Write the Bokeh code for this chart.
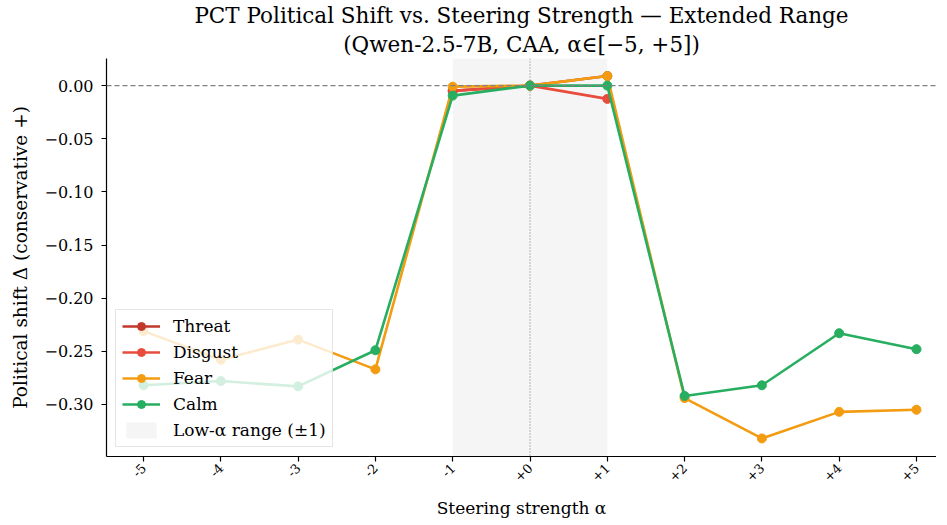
from bokeh.plotting import figure
from bokeh.models import Span, Legend, LegendItem, FixedTicker, CustomJSTickFormatter, Range1d, Title
from bokeh.embed import file_html
from bokeh.resources import INLINE

# ---- data ----
alpha_full = [-5, -4, -3, -2, -1, 0, 1, 2, 3, 4, 5]
alpha_low = [-1, 0, 1]
threat = [-0.005, 0.0, 0.009]
disgust = [-0.005, 0.0, -0.0125]
fear = [-0.231, -0.258, -0.239, -0.267, -0.001, 0.0, 0.009, -0.294, -0.332, -0.307, -0.305]
calm = [-0.282, -0.278, -0.283, -0.249, -0.0094, 0.0, 0.0, -0.292, -0.282, -0.233, -0.248]
low_range = [-1, 1]
x_ticks = [-5, -4, -3, -2, -1, 0, 1, 2, 3, 4, 5]
y_ticks = [0.0, -0.05, -0.10, -0.15, -0.20, -0.25, -0.30]
title_lines = ["PCT Political Shift vs. Steering Strength \u2014 Extended Range",
               "(Qwen-2.5-7B, CAA, \u03b1\u2208[\u22125, +5])"]

series = [
    ("Threat", alpha_low, threat, "#c0392b"),
    ("Disgust", alpha_low, disgust, "#e74c3c"),
    ("Fear", alpha_full, fear, "#f39c12"),
    ("Calm", alpha_full, calm, "#27ae60"),
]

FONT = "DejaVu Serif"

p = figure(width=936, height=522, output_backend="svg", toolbar_location=None,
           x_range=Range1d(-5.479, 5.259), y_range=Range1d(-0.349, 0.0255),
           min_border_left=106, min_border_right=0, min_border_top=57, min_border_bottom=66)

p.title.text = title_lines[0]
p.title.text_font = FONT
p.title.text_font_style = "normal"
p.title.text_font_size = "21.5px"
p.title.align = "center"
p.title.text_color = "#000000"
p.title.standoff = 0
t2 = Title(text=title_lines[1], text_font=FONT, text_font_style="normal",
           text_font_size="21.5px", align="center", text_color="#000000", standoff=4)
p.add_layout(t2, "above")

p.outline_line_color = None
p.grid.visible = False
p.background_fill_color = "white"

# shaded low-alpha band
band = p.quad(left=[low_range[0]], right=[low_range[1]], bottom=[-10], top=[10],
               fill_color="#f5f5f5", line_color=None)
band.level = "image"

vline = Span(location=0, dimension="height", line_color="#555555", line_dash="1 2",
             line_width=0.8, level="underlay")
p.add_layout(vline)

items = []
for name, xs, ys, col in series:
    r1 = p.line(xs, ys, line_color=col, line_width=2.6)
    r2 = p.scatter(xs, ys, size=9, fill_color=col, line_color=col)
    items.append(LegendItem(label=name, renderers=[r1, r2]))
items.append(LegendItem(label="Low-\u03b1 range (\u00b11)", renderers=[band]))

hline = Span(location=0, dimension="width", line_color="#808080", line_dash="5 3",
             line_width=1.1)
p.add_layout(hline)

legend = Legend(items=items, location="bottom_left")
legend.label_text_font = FONT
legend.label_text_font_size = "17px"
legend.label_text_color = "black"
legend.border_line_color = "#cccccc"
legend.border_line_width = 1
legend.background_fill_alpha = 0.8
legend.glyph_width = 38
legend.glyph_height = 20
legend.label_standoff = 13
legend.spacing = 6
legend.padding = 6
legend.margin = 9
p.add_layout(legend)

# axes
p.xaxis.ticker = FixedTicker(ticks=x_ticks)
p.xaxis.formatter = CustomJSTickFormatter(code="return (tick < 0 ? '-' : '+') + Math.abs(tick).toFixed(0);")
p.xaxis.major_label_orientation = 0.785398
p.yaxis.ticker = FixedTicker(ticks=y_ticks)
p.yaxis.formatter = CustomJSTickFormatter(code="return (tick < 0 ? '\u2212' : '') + Math.abs(tick).toFixed(2);")

for ax in (p.xaxis, p.yaxis):
    ax.axis_line_color = "black"
    ax.axis_line_width = 1.2
    ax.major_tick_line_color = "black"
    ax.major_tick_line_width = 1.2
    ax.major_tick_in = 0
    ax.major_tick_out = 5
    ax.minor_tick_line_color = None
    ax.major_label_text_font = FONT
    ax.axis_label_text_font = FONT
    ax.axis_label_text_font_style = "normal"
    ax.axis_label_text_color = "black"
    ax.major_label_text_color = "black"

p.xaxis.axis_label_text_font_size = "17px"
p.yaxis.axis_label_text_font_size = "18.5px"
p.xaxis.major_label_text_font_size = "13px"
p.yaxis.major_label_text_font_size = "16px"
p.xaxis.axis_label = "Steering strength \u03b1"
p.yaxis.axis_label = "Political shift \u0394 (conservative +)"
p.xaxis.major_label_standoff = 4
p.yaxis.major_label_standoff = 8
p.yaxis.axis_label_standoff = 10
p.xaxis.axis_label_standoff = 9

open("out.html", "w").write(file_html(p, INLINE))
